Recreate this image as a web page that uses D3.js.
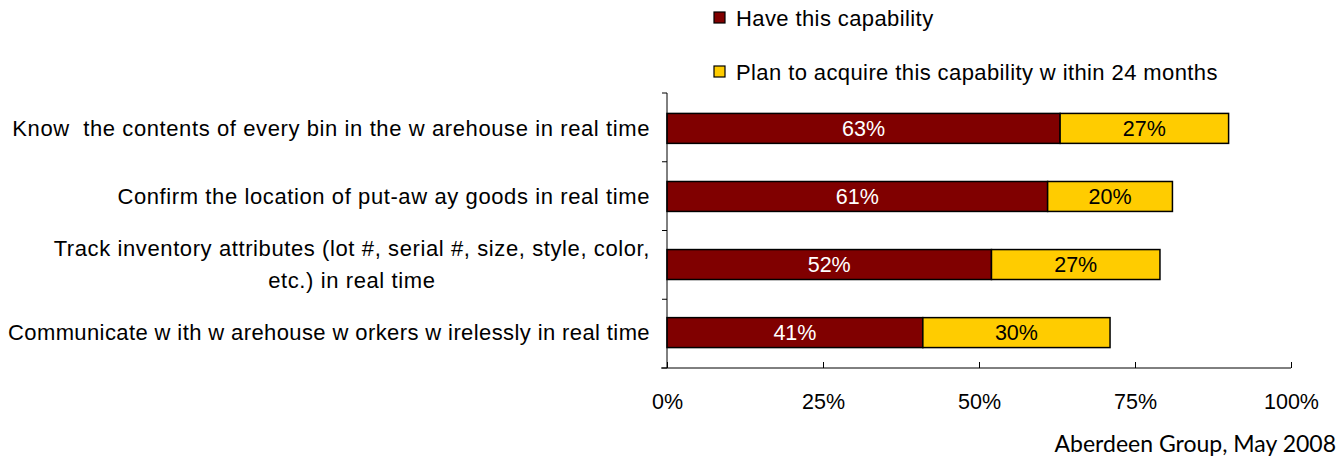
<!DOCTYPE html>
<html>
<head>
<meta charset="utf-8">
<script src="https://cdnjs.cloudflare.com/ajax/libs/d3/7.8.5/d3.min.js"></script>
<style>
  html, body { margin: 0; padding: 0; background: #ffffff; overflow: hidden; }
  svg { display: block; font-family: "Liberation Sans", Arial, sans-serif; }
</style>
</head>
<body>
<div id="box"></div>
<script>
// chart data
const categories = [
  ['Know  the contents of every bin in the w arehouse in real time'],
  ['Confirm the location of put-aw ay goods in real time'],
  ['Track inventory attributes (lot #, serial #, size, style, color,', 'etc.) in real time'],
  ['Communicate w ith w arehouse w orkers w irelessly in real time']
];
const haveValues = [63, 61, 52, 41];
const planValues = [27, 20, 27, 30];
const seriesNames = ['Have this capability', 'Plan to acquire this capability w ithin 24 months'];
const seriesColors = ['#800000', '#FFCC00'];
const xTicks = [0, 25, 50, 75, 100];
const source = 'Aberdeen Group, May 2008';

const width = 1338, height = 462;
const padLeft = 667, padRight = 47, padTop = 93, padBottom = 94;
const innerWidth = width - padLeft - padRight;
const innerHeight = height - padTop - padBottom;
const fontSize = 21.5;
const labelGap = 17;
const maxLabelWidth = padLeft - labelGap - 8;

const svg = d3.select('#box').append('svg')
  .attr('width', width)
  .attr('height', height);

const x = d3.scaleLinear().domain([0, 100]).range([0, innerWidth]);
const y = d3.scaleBand().domain(d3.range(categories.length)).range([0, innerHeight]).paddingInner(0.56).paddingOuter(0.3);

const g = svg.append('g').attr('transform', `translate(${padLeft},${padTop})`);

// bars
const rows = categories.map((c, i) => ({ i, have: haveValues[i], plan: planValues[i] }));

g.selectAll('.have').data(rows)
  .join('rect')
  .attr('class', 'have')
  .attr('x', x(0))
  .attr('y', d => y(d.i))
  .attr('width', d => x(d.have) - x(0))
  .attr('height', y.bandwidth())
  .style('fill', seriesColors[0])
  .style('stroke', '#000')
  .style('stroke-width', 1.5);

g.selectAll('.plan').data(rows)
  .join('rect')
  .attr('class', 'plan')
  .attr('x', d => x(d.have))
  .attr('y', d => y(d.i))
  .attr('width', d => x(d.have + d.plan) - x(d.have))
  .attr('height', y.bandwidth())
  .style('fill', seriesColors[1])
  .style('stroke', '#000')
  .style('stroke-width', 1.5);

g.selectAll('.haveLabel').data(rows)
  .join('text')
  .attr('class', 'haveLabel')
  .attr('x', d => x(d.have / 2))
  .attr('y', d => y(d.i) + y.bandwidth() / 2)
  .attr('dy', '0.35em')
  .attr('text-anchor', 'middle')
  .text(d => d.have + '%')
  .style('fill', '#fff')
  .style('font-size', fontSize + 'px');

g.selectAll('.planLabel').data(rows)
  .join('text')
  .attr('class', 'planLabel')
  .attr('x', d => x(d.have + d.plan / 2))
  .attr('y', d => y(d.i) + y.bandwidth() / 2)
  .attr('dy', '0.35em')
  .attr('text-anchor', 'middle')
  .text(d => d.plan + '%')
  .style('fill', '#000')
  .style('font-size', fontSize + 'px');

// y axis with ticks between categories
g.append('line')
  .attr('x1', 0).attr('x2', 0)
  .attr('y1', 0).attr('y2', innerHeight)
  .style('stroke', '#000');

const step = innerHeight / categories.length;
g.selectAll('.ytick').data(d3.range(categories.length + 1))
  .join('line')
  .attr('class', 'ytick')
  .attr('x1', -5).attr('x2', 0)
  .attr('y1', d => d * step).attr('y2', d => d * step)
  .style('stroke', '#000');

// category labels
const catLabels = g.selectAll('.cat').data(categories)
  .join('text')
  .attr('class', 'cat')
  .attr('y', (d, i) => y(i) + y.bandwidth() / 2)
  .style('font-size', '22px')
  .style('letter-spacing', '0.6px')
  .style('white-space', 'pre')
  .style('fill', '#000');

catLabels.each(function(lines, i) {
  const t = d3.select(this);
  const lh = 32;
  const y0 = -(lines.length - 1) * lh / 2;
  lines.forEach((line, k) => {
    t.append('tspan').attr('x', -labelGap).attr('dy', k === 0 ? (y0 / 22 + 0.35) + 'em' : lh + 'px').text(line);
  });
});
// keep long labels inside the left edge by tightening their spacing
catLabels.each(function(lines) {
  const t = d3.select(this);
  const spans = t.selectAll('tspan').nodes();
  const w = Math.max(...spans.map(s => s.getComputedTextLength()));
  if (w > maxLabelWidth) {
    const n = d3.max(lines, l => l.length);
    t.style('letter-spacing', (0.6 - (w - maxLabelWidth) / n) + 'px');
  }
});
// center the wrapped lines under the widest one
catLabels.each(function(lines) {
  if (lines.length < 2) { d3.select(this).attr('text-anchor', 'end'); return; }
  const spans = d3.select(this).selectAll('tspan').nodes();
  const w = Math.max(...spans.map(s => s.getComputedTextLength()));
  d3.select(this).attr('text-anchor', 'middle');
  spans.forEach(s => d3.select(s).attr('x', -labelGap - w / 2));
});

// x axis
const xAxis = g.append('g')
  .attr('transform', `translate(0,${innerHeight})`)
  .call(d3.axisBottom(x).tickValues(xTicks).tickFormat(d => d + '%').tickSize(6).tickSizeOuter(0).tickPadding(20));
xAxis.select('.domain').attr('d', `M-6,0H${innerWidth}`);
xAxis.selectAll('.tick line').attr('y1', -6).attr('y2', 0);
xAxis.selectAll('text')
  .style('font-family', '"Liberation Sans", Arial, sans-serif')
  .style('font-size', fontSize + 'px')
  .style('fill', '#000');

// legend
const legend = svg.append('g').attr('transform', 'translate(714,0)');
const leg = legend.selectAll('.leg').data(seriesNames)
  .join('g')
  .attr('class', 'leg')
  .attr('transform', (d, i) => `translate(0,${12 + i * 54})`);
leg.append('rect')
  .attr('width', 11).attr('height', 11)
  .style('fill', (d, i) => seriesColors[i])
  .style('stroke', '#000')
  .style('stroke-width', 1.2);
leg.append('text')
  .attr('x', 22).attr('y', 6)
  .attr('dy', '0.35em')
  .text(d => d)
  .style('font-size', '22px')
  .style('letter-spacing', '0.4px');

// source note
svg.append('text')
  .attr('x', width - 2).attr('y', 452)
  .attr('text-anchor', 'end')
  .text(source)
  .style('font-family', 'Lato, "Open Sans", sans-serif')
  .style('font-size', '23px');
</script>
</body>
</html>
